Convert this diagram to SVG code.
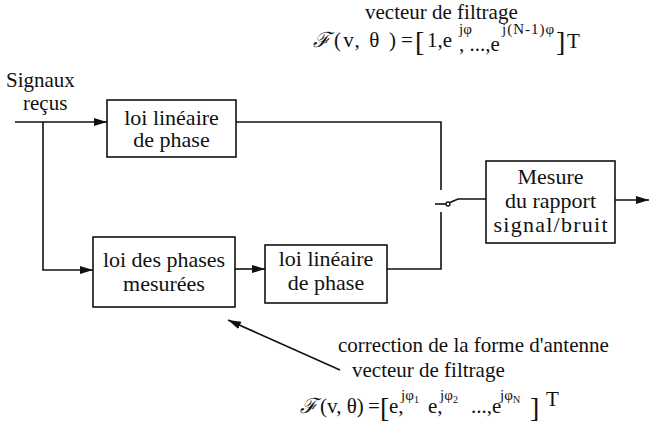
<svg xmlns="http://www.w3.org/2000/svg" width="650" height="423" viewBox="0 0 650 423">
<style>
text{font-family:"Liberation Serif","Times New Roman",serif;fill:#111;font-size:21px}
.c{text-anchor:middle;font-size:22px}
.box{fill:#fff;stroke:#111;stroke-width:1.6}
.ln{fill:none;stroke:#111;stroke-width:1.6}
.sup{font-size:15px}
.sub{font-size:10px}
.br{font-size:28px}
.sc{font-family:"DejaVu Serif","Liberation Serif",serif;font-style:italic}
</style>
<defs>
<marker id="ah" markerUnits="userSpaceOnUse" markerWidth="14" markerHeight="10" refX="13" refY="4" orient="auto">
<path d="M0,0 L13,4 L0,8 z" fill="#111"/>
</marker>
</defs>
<g id="connectors">
<path class="ln" d="M15,122 H107" marker-end="url(#ah)"/>
<path class="ln" d="M43,122 V270 H93" marker-end="url(#ah)"/>
<path class="ln" d="M236,122 H441 V190"/>
<path class="ln" d="M235,269 H265" marker-end="url(#ah)"/>
<path class="ln" d="M387,269 H441 V212"/>
<path class="ln" d="M435,204 H446"/>
<circle cx="448" cy="204" r="2" fill="none" stroke="#111" stroke-width="1.3"/>
<path class="ln" d="M450,202.5 L458,199 H486"/>
<path class="ln" d="M615,200 H649" marker-end="url(#ah)"/>
<path class="ln" d="M340,370 L228,320" marker-end="url(#ah)"/>
</g>
<g id="input-label">
<text x="6" y="87" font-size="22">Signaux</text>
<text x="23" y="110" font-size="22">reçus</text>
</g>
<g id="box-lin1">
<rect class="box" x="107" y="100" width="129" height="57"/>
<text class="c" x="171.5" y="125">loi linéaire</text>
<text class="c" x="171.5" y="147">de phase</text>
</g>
<g id="box-phases">
<rect class="box" x="93" y="237" width="142" height="70"/>
<text class="c" x="164" y="267">loi des phases</text>
<text class="c" x="164" y="291">mesurées</text>
</g>
<g id="box-lin2">
<rect class="box" x="265" y="245" width="122" height="58"/>
<text class="c" x="326" y="266">loi linéaire</text>
<text class="c" x="326" y="290">de phase</text>
</g>
<g id="box-mesure">
<rect class="box" x="486" y="161" width="129" height="82"/>
<text class="c" x="550.5" y="184">Mesure</text>
<text class="c" x="550.5" y="208">du rapport</text>
<text class="c" x="550.5" y="232" textLength="114" lengthAdjust="spacing">signal/bruit</text>
</g>
<g id="top-formula">
<text x="365" y="19" font-size="22">vecteur de filtrage</text>
<text class="sc" x="313" y="47">ℱ</text>
<text x="334" y="47" textLength="62" lengthAdjust="spacing">(v, θ )</text>
<text x="401" y="47">=</text>
<text class="br" x="415" y="51">[</text>
<text x="427" y="47">1,e</text>
<text class="sup" x="459" y="34">jφ</text>
<text x="459" y="51">, ...,e</text>
<text class="sup" x="502" y="34" letter-spacing="1">j(N-1)φ</text>
<text class="br" x="556" y="51">]</text>
<text x="567" y="48" font-size="18">T</text>
</g>
<g id="bottom-annotation">
<text x="338" y="352" font-size="21.5">correction de la forme d'antenne</text>
<text x="352" y="377" font-size="20">vecteur de filtrage</text>
<text class="sc" x="300" y="413">ℱ</text>
<text x="320" y="413">(v, θ)</text>
<text x="368" y="413">=</text>
<text class="br" x="380" y="417">[</text>
<text x="389" y="413">e,</text>
<text class="sup" x="401" y="400">jφ</text>
<text class="sub" x="414" y="403">1</text>
<text x="428" y="413">e,</text>
<text class="sup" x="440" y="400">jφ</text>
<text class="sub" x="453" y="403">2</text>
<text x="471" y="413">...,e</text>
<text class="sup" x="500" y="400">jφ</text>
<text class="sub" x="513" y="403">N</text>
<text class="br" x="530" y="417">]</text>
<text x="546" y="406" font-size="18">T</text>
</g>
</svg>
